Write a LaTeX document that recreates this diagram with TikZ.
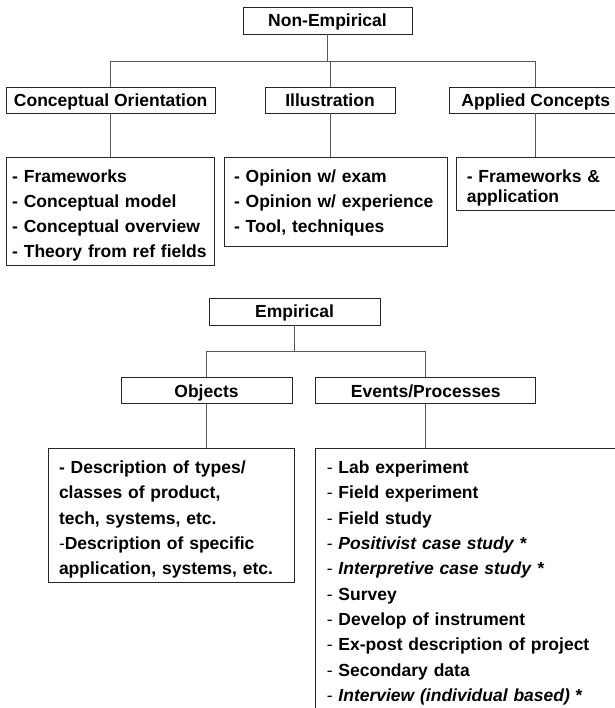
\documentclass[tikz,border=0pt]{standalone}
\usepackage{fontspec}
\setmainfont{Liberation Sans}
\usetikzlibrary{positioning}

% Altura extra da primeira linha e profundidade da última linha das listas
\newcommand{\lfirst}{\rule{0pt}{21pt}}
\newcommand{\lend}[1]{\rule[-#1]{0pt}{#1}}
\newcommand{\ldash}{{\mdseries -}}

\begin{document}
\begin{tikzpicture}[
    x=1pt, y=1pt,
    % Caixas de categoria (uma linha)
    head/.style={rectangle, draw=black!85, line width=0.8pt, minimum height=26pt, inner sep=0pt, text height=12.5pt, text depth=0pt, font=\fontsize{17.5}{21}\selectfont\bfseries},
    % Caixas com as listas de métodos
    list/.style={rectangle, draw=black!85, line width=0.8pt, align=left, inner xsep=10pt, inner ysep=4pt, font=\fontsize{17.5}{25}\selectfont\bfseries},
    link/.style={draw=black!65, line width=0.8pt}
]
\useasboundingbox (0,0) rectangle (614,-708);

% 1. Non-Empirical
\node[head, minimum width=169pt, minimum height=27pt] (nonemp) at (327.5,-20.5) {Non-Empirical};
\coordinate[below=27pt of nonemp] (topbus);

% 2. Categorias não empíricas
\node[head, minimum width=130pt] (illus) at (330,-100) {Illustration};
\node[head, minimum width=209pt, left=49pt of illus] (concor) {Conceptual Orientation};
\node[head, minimum width=172pt, right=54pt of illus] (applied) {Applied Concepts};

% 3. Listas não empíricas
\node[list, text width=196pt, inner xsep=6pt, below=44pt of concor.south west, anchor=north west] (conclist) {
    \lfirst- Frameworks\\
    - Conceptual model\\
    - Conceptual overview\\
    - Theory from ref fields
};
\node[list, text width=203pt, below=44pt of illus, xshift=5.5pt] (illlist) {
    \lfirst- Opinion w/ exam\\
    - Opinion w/ experience\\
    - Tool, techniques\lend{10pt}
};
\node[list, text width=180pt, font=\fontsize{17.5}{20}\selectfont\bfseries, right=9pt of illlist.north east, anchor=north west] (applist) {
    \lfirst- Frameworks \&\\
    application
};

% 4. Empirical
\node[head, minimum width=171pt, minimum height=27pt] (emp) at (294.5,-311.5) {Empirical};
\coordinate[below=26pt of emp] (empbus);

% 5. Categorias empíricas
\node[head, minimum width=171pt, below=26pt of empbus, xshift=-88pt] (obj) {Objects};
\node[head, minimum width=220pt, right=23pt of obj] (events) {Events/Processes};

% 6. Listas empíricas
\node[list, text width=224pt, inner xsep=11pt, font=\fontsize{17.5}{25.3}\selectfont\bfseries, below=44pt of obj, xshift=-35.5pt] (objlist) {
    \lfirst- Description of types/\\
    classes of product,\\
    tech, systems, etc.\\
    \ldash{}Description of specific\\
    application, systems, etc.
};
\node[list, text width=330pt, inner xsep=11pt, font=\fontsize{17.5}{25.3}\selectfont\bfseries, below=44pt of events.south west, anchor=north west] (evlist) {
    \lfirst\ldash{} Lab experiment\\
    \ldash{} Field experiment\\
    \ldash{} Field study\\
    \ldash{} \textit{Positivist case study} *\\
    \ldash{} \textit{Interpretive case study} *\\
    \ldash{} Survey\\
    \ldash{} Develop of instrument\\
    \ldash{} Ex-post description of project\\
    \ldash{} Secondary data\\
    \ldash{} \textit{Interview (individual based)} *\lend{12pt}
};

% 7. Ligações
\draw[link] (nonemp) -- (topbus);
\draw[link] (concor.north) |- (topbus) -| (applied.north);
\draw[link] (illus.north) -- (illus.north |- topbus);
\draw[link] (concor.south) -- (concor.south |- conclist.north);
\draw[link] (illus.south) -- (illus.south |- illlist.north);
\draw[link] (applied.south) -- (applied.south |- applist.north);

\draw[link] (emp) -- (empbus);
\draw[link] (obj.north) |- (empbus) -| (events.north);
\draw[link] (obj.south) -- (obj.south |- objlist.north);
\draw[link] (events.south) -- (events.south |- evlist.north);

\end{tikzpicture}
\end{document}
